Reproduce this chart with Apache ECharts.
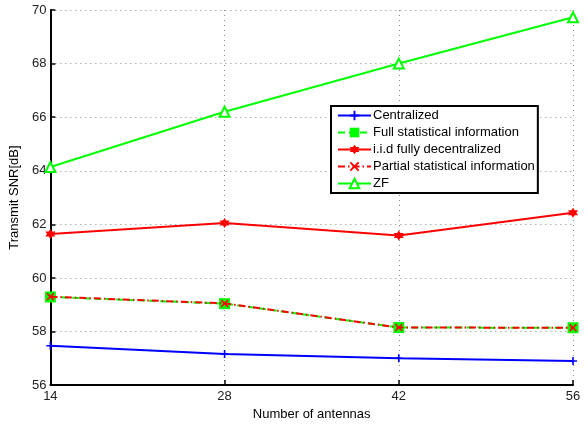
<!DOCTYPE html>
<html><head><meta charset="utf-8">
<script src="https://cdn.jsdelivr.net/npm/echarts@6/dist/echarts.min.js"></script>
<style>html,body{margin:0;padding:0;background:#fff}#c{width:588px;height:426px}</style>
</head><body><div id="c"></div>
<script>
const antennas = [14, 28, 42, 56];
const xTicks = [14, 28, 42, 56];
const yTicks = [56, 58, 60, 62, 64, 66, 68, 70];
const centralized = [57.47, 57.16, 57.0, 56.9];
const fullStat = [59.29, 59.04, 58.15, 58.14];
const iidDecentral = [61.64, 62.05, 61.58, 62.43];
const partialStat = [59.3, 59.05, 58.15, 58.14];
const zf = [64.14, 66.2, 68.0, 69.73];

const pair = arr => antennas.map((x, i) => [x, arr[i]]);
const PLUS = 'path://M4,0 L6,0 L6,4 L10,4 L10,6 L6,6 L6,10 L4,10 L4,6 L0,6 L0,4 L4,4 Z';
const CROSS = 'path://M1.4,0 L5,3.6 L8.6,0 L10,1.4 L6.4,5 L10,8.6 L8.6,10 L5,6.4 L1.4,10 L0,8.6 L3.6,5 L0,1.4 Z';
const HEX = 'path://M5,0 L6.44,2.5 L9.33,2.5 L7.89,5 L9.33,7.5 L6.44,7.5 L5,10 L3.56,7.5 L0.67,7.5 L2.11,5 L0.67,2.5 L3.56,2.5 Z';

const chart = echarts.init(document.getElementById('c'), null, {renderer: 'canvas'});
const font = 'Liberation Sans, Arial, Helvetica, sans-serif';
chart.setOption({
  animation: false,
  backgroundColor: '#fff',
  grid: {left: 49, right: 15, top: 10, bottom: 39},
  xAxis: {
    type: 'value', min: 14, max: 56, interval: 14,
    name: 'Number of antennas', nameLocation: 'middle', nameGap: 21,
    nameTextStyle: {fontFamily: font, fontSize: 13, color: '#000'},
    axisLine: {lineStyle: {color: '#000', width: 2}},
    axisTick: {inside: true, length: 5, lineStyle: {color: '#000', width: 1.5}},
    axisLabel: {fontFamily: font, fontSize: 13, color: '#222', margin: 5,
      formatter: v => xTicks.includes(v) ? String(v) : ''},
    splitLine: {show: true, lineStyle: {color: '#888', type: [1, 4], width: 1}}
  },
  yAxis: {
    type: 'value', min: 56, max: 70, interval: 2,
    name: 'Transmit SNR[dB]', nameLocation: 'middle', nameGap: 26,
    nameTextStyle: {fontFamily: font, fontSize: 13, color: '#000'},
    axisLine: {show: true, lineStyle: {color: '#000', width: 2}},
    axisTick: {show: true, inside: true, length: 5, lineStyle: {color: '#000', width: 1.5}},
    axisLabel: {fontFamily: font, fontSize: 13, color: '#222', margin: 4,
      formatter: v => yTicks.includes(v) ? String(v) : ''},
    splitLine: {show: true, lineStyle: {color: '#888', type: [1, 4], width: 1}}
  },
  legend: {
    orient: 'vertical', left: 331, top: 106,
    backgroundColor: '#fff', borderColor: '#000', borderWidth: 2, borderRadius: 0,
    padding: [3, 3, 3, 6], itemGap: 4, itemWidth: 33, itemHeight: 12,
    textStyle: {fontFamily: font, fontSize: 13, color: '#000', padding: [0, 0, 0, -3]},
    data: ['Centralized', 'Full statistical information', 'i.i.d fully decentralized', 'Partial statistical information', 'ZF']
  },
  series: [
    {name: 'Centralized', type: 'line', data: pair(centralized), symbol: PLUS, symbolSize: 8,
      lineStyle: {color: '#0000ff', width: 2}, itemStyle: {color: '#0000ff'}, z: 2},
    {name: 'Full statistical information', type: 'line', data: pair(fullStat), symbol: 'rect', symbolSize: 11,
      lineStyle: {color: '#00ff00', width: 2, type: [7, 4]}, itemStyle: {color: '#00ff00'}, z: 3},
    {name: 'i.i.d fully decentralized', type: 'line', data: pair(iidDecentral), symbol: HEX, symbolSize: 10,
      lineStyle: {color: '#ff0000', width: 2}, itemStyle: {color: '#ff0000'}, z: 4},
    {name: 'Partial statistical information', type: 'line', data: pair(partialStat), symbol: CROSS, symbolSize: 8,
      lineStyle: {color: '#ff0000', width: 2, type: [7, 3, 1.5, 3]}, itemStyle: {color: '#ff0000'}, z: 5},
    {name: 'ZF', type: 'line', data: pair(zf), symbol: 'emptyTriangle', symbolSize: 10,
      lineStyle: {color: '#00ff00', width: 2}, itemStyle: {color: '#00ff00', borderColor: '#00ff00', borderWidth: 1.5}, z: 6}
  ]
});
</script></body></html>
